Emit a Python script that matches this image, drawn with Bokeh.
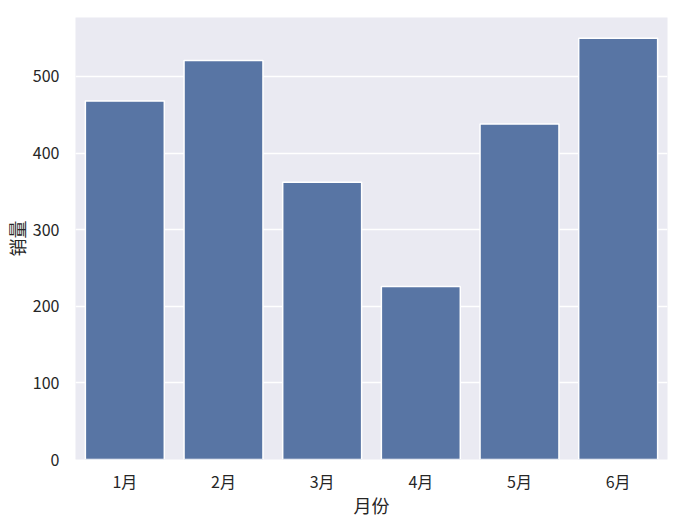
from bokeh.plotting import figure
from bokeh.models import ColumnDataSource, Range1d, FactorRange, SingleIntervalTicker
from bokeh.embed import file_html
from bokeh.resources import INLINE

months = ["1月", "2月", "3月", "4月", "5月", "6月"]
sales = [468, 521, 362, 226, 438, 550]

FONT = "Noto Sans CJK SC"

src = ColumnDataSource(dict(month=months, sales=sales))

p = figure(x_range=FactorRange(*months, range_padding=0), y_range=Range1d(0, 577),
           frame_width=592, frame_height=442,
           min_border_left=68, min_border_top=17, min_border_right=4, min_border_bottom=55,
           output_backend="svg", toolbar_location=None,
           background_fill_color="#EAEAF2", border_fill_color="white", outline_line_color=None)

p.vbar(x="month", top="sales", width=0.8, source=src,
       fill_color="#5875A4", line_color="white", line_width=1.5)

p.yaxis.ticker = SingleIntervalTicker(interval=100)
p.xgrid.grid_line_color = None
p.ygrid.grid_line_color = "white"
p.ygrid.grid_line_width = 1.6
p.ygrid.level = "underlay"

for ax in (p.xaxis[0], p.yaxis[0]):
    ax.axis_line_color = None
    ax.major_tick_line_color = None
    ax.minor_tick_line_color = None
    ax.major_tick_out = 0
    ax.major_tick_in = 0
    ax.major_label_text_font = FONT
    ax.major_label_text_font_size = "16px"
    ax.major_label_text_color = "#262626"
    ax.axis_label_text_font = FONT
    ax.axis_label_text_font_size = "18px"
    ax.axis_label_text_color = "#262626"
    ax.axis_label_text_font_style = "normal"

p.xaxis.axis_label = "月份"
p.yaxis.axis_label = "销量"
p.xaxis.major_label_standoff = 9
p.yaxis.major_label_standoff = 12
p.xaxis.axis_label_standoff = -4
p.yaxis.axis_label_standoff = 0

open("out.html", "w").write(file_html(p, INLINE))
